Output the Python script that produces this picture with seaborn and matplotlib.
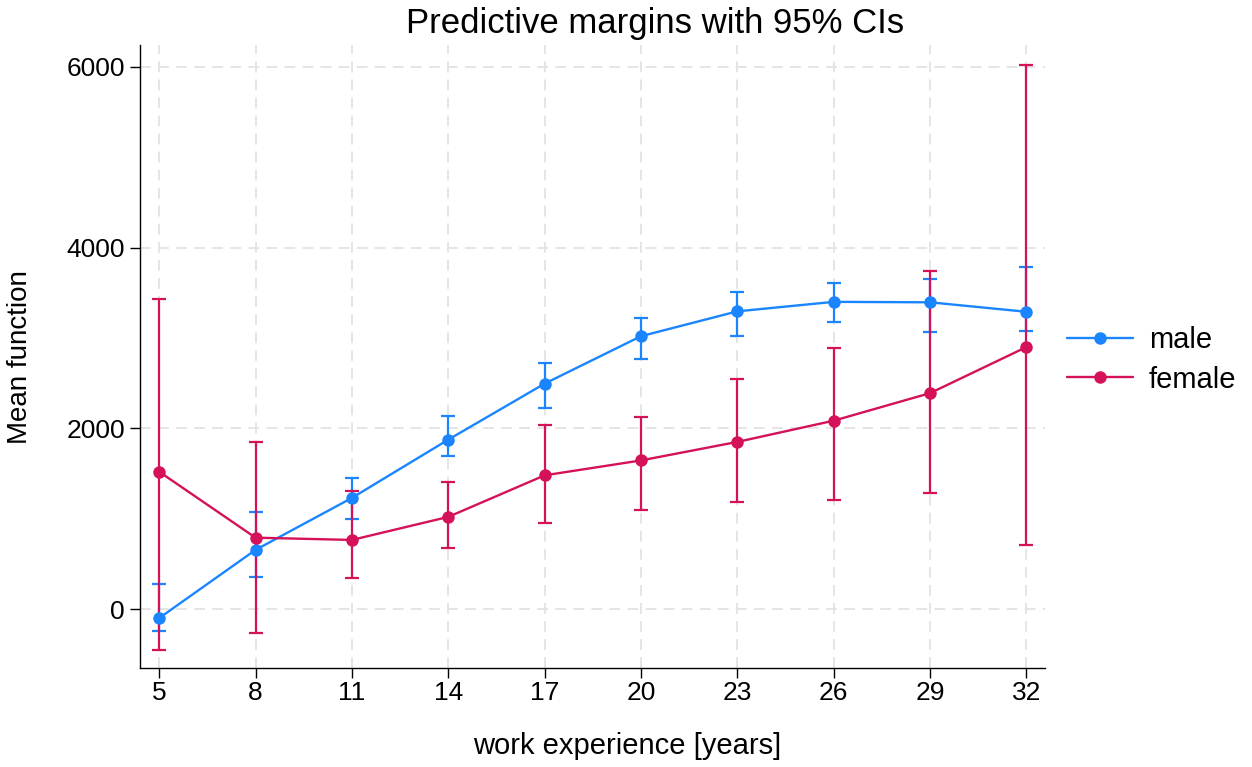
import numpy as np
import pandas as pd
import seaborn as sns
import matplotlib.pyplot as plt

# data
experience = [5, 8, 11, 14, 17, 20, 23, 26, 29, 32]

male_mean = [-100, 655, 1230, 1875, 2495, 3020, 3295, 3400, 3395, 3290]
male_lo = [-245, 360, 1000, 1690, 2230, 2765, 3025, 3180, 3065, 3075]
male_hi = [275, 1070, 1455, 2140, 2720, 3225, 3510, 3605, 3650, 3785]

female_mean = [1520, 790, 765, 1020, 1480, 1645, 1850, 2085, 2390, 2900]
female_lo = [-455, -270, 340, 680, 955, 1095, 1180, 1205, 1285, 705]
female_hi = [3430, 1845, 1310, 1410, 2035, 2125, 2545, 2890, 3745, 6020]

groups = ['male', 'female']
colors = {'male': '#1A85FF', 'female': '#D41159'}

df = pd.DataFrame({
    'exp': experience * 2,
    'margin': male_mean + female_mean,
    'lo': male_lo + female_lo,
    'hi': male_hi + female_hi,
    'group': ['male'] * len(experience) + ['female'] * len(experience),
})

sns.set_theme(style='white')
plt.rcParams['font.family'] = ['Liberation Sans', 'DejaVu Sans']
plt.rcParams['text.color'] = 'black'
plt.rcParams['axes.labelcolor'] = 'black'
plt.rcParams['xtick.color'] = 'black'
plt.rcParams['ytick.color'] = 'black'

fig = plt.figure(figsize=(12.52, 7.67), dpi=100)
ax = fig.add_axes([0.112, 0.129, 0.723, 0.812])

# confidence intervals first, lines on top
for g in groups:
    sub = df[df['group'] == g]
    ax.errorbar(sub['exp'], sub['margin'],
                yerr=[sub['margin'] - sub['lo'], sub['hi'] - sub['margin']],
                fmt='none', ecolor=colors[g], elinewidth=1.6, capsize=5,
                capthick=1.6, zorder=2)

sns.lineplot(data=df, x='exp', y='margin', hue='group', hue_order=groups,
             palette=colors, marker='o', markersize=9, markeredgewidth=0,
             linewidth=1.7, ax=ax, zorder=3)

ax.set_xlim(4.41, 32.59)
ax.set_ylim(-653, 6240)
ax.set_xticks(experience)
ax.set_yticks([0, 2000, 4000, 6000])
ax.grid(True, color='#e3e3e3', linestyle=(0, (6, 4)), linewidth=1.3)
ax.set_axisbelow(True)

for s in ['top', 'right']:
    ax.spines[s].set_visible(False)
for s in ['left', 'bottom']:
    ax.spines[s].set_color('black')
    ax.spines[s].set_linewidth(1.0)

ax.tick_params(axis='both', direction='out', length=7, width=1,
               color='black', labelsize=19, bottom=True, left=True, pad=4)
ax.tick_params(axis='x', pad=2)

ax.set_xlabel('work experience [years]', fontsize=21)
ax.set_ylabel('Mean function', fontsize=20)
ax.xaxis.set_label_coords(0.538, -0.103)
ax.yaxis.set_label_coords(-0.118, 0.5)

fig.text(655 / 1252, 1 - 23 / 767, 'Predictive margins with 95% CIs',
         ha='center', va='center', fontsize=25)

ax.legend(title=None, frameon=False, fontsize=21, loc='center left',
          bbox_to_anchor=(0.995, 0.495), handlelength=2.25, handletextpad=0.55,
          labelspacing=0.4)

fig.savefig('out.png', dpi=100, facecolor='white')
